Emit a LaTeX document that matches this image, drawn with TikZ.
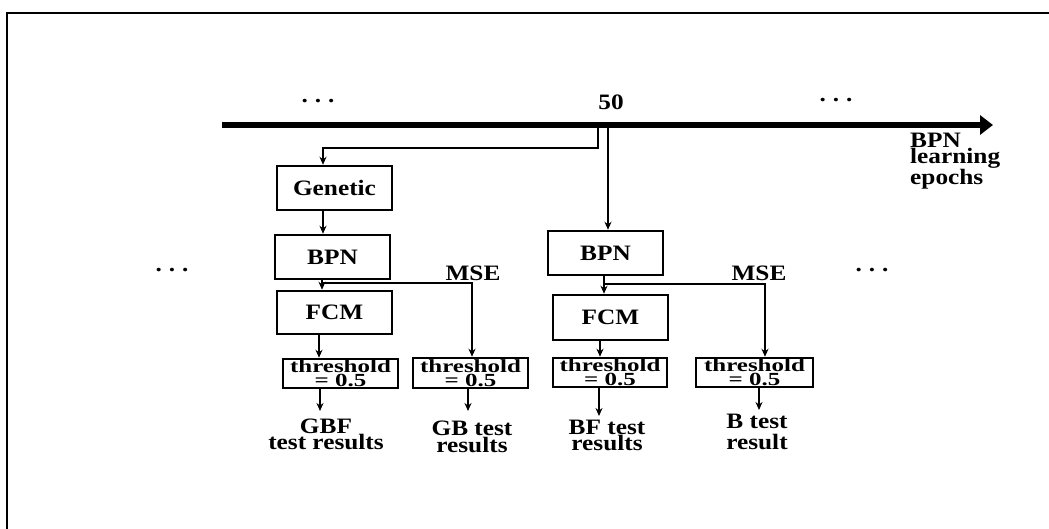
\documentclass[tikz,border=0pt]{standalone}
\usepackage{fontspec}
\setmainfont{Liberation Serif}[FakeStretch=1.15]
\newfontfamily\thrfont{Liberation Serif Bold}[FakeStretch=1.35]
\usetikzlibrary{arrows.meta}
\begin{document}
\begin{tikzpicture}[x=1pt,y=-1pt,
  box/.style={draw,line width=2.5pt,minimum width=115pt,minimum height=44pt,inner sep=0pt,font=\bfseries\fontsize{22}{15}\selectfont},
  thr/.style={draw,line width=2.5pt,minimum width=115pt,minimum height=29pt,inner sep=0pt,align=center,font=\thrfont\fontsize{18.5}{14}\selectfont},
  lbl/.style={align=center,inner sep=0pt,font=\bfseries\fontsize{22}{16}\selectfont},
  dots/.style={inner sep=0pt,font=\bfseries\fontsize{22}{15}\selectfont},
  conn/.style={line width=2pt},
  arr/.style={line width=2pt,-{Stealth[length=8pt,width=7pt]}},
]
\useasboundingbox (0,0) rectangle (1049,529);
% frame
\draw[line width=1.6pt] (7,529) -- (7,13) -- (1049,13);

% axis
\coordinate (axS) at (222,125);
\coordinate (axE) at (993,125);
\draw[line width=5.5pt,-{Triangle[length=13pt,width=19pt]}] (axS) -- (axE);

% top labels
\node[dots] (d1) at (318,101) {.\hspace{7pt}.\hspace{7pt}.};
\node[lbl] (n50) at (611,102) {50};
\node[dots] (d2) at (836,100) {.\hspace{7pt}.\hspace{7pt}.};
\node[lbl,anchor=north west,align=left,font=\bfseries\fontsize{22}{16}\selectfont] (ep) at (910,133) {BPN\\learning\\epochs};

% middle dots
\node[dots] (d3) at (172,270) {.\hspace{7pt}.\hspace{7pt}.};
\node[dots] (d4) at (872,270) {.\hspace{7pt}.\hspace{7pt}.};

% boxes
\node[box] (gen) at (334.5,188) {Genetic};
\node[box] (bpn1) at (332.5,257) {BPN};
\node[box,minimum height=43pt] (fcm1) at (334.5,312.5) {FCM};
\node[thr] (thr1) at (340.5,373.5) {threshold\\= 0.5};
\node[thr,minimum height=30pt] (thr2) at (470.5,373) {threshold\\= 0.5};
\node[box] (bpn2) at (605.5,253) {BPN};
\node[box,minimum height=45pt] (fcm2) at (610.5,317.5) {FCM};
\node[thr,minimum width=114pt] (thr3) at (610,372.5) {threshold\\= 0.5};
\node[thr,minimum width=117pt] (thr4) at (754.5,372.5) {threshold\\= 0.5};

% MSE labels
\node[lbl] (mse1) at (473,273) {MSE};
\node[lbl] (mse2) at (759,273) {MSE};

% result labels
\node[lbl] (gbf) at (326,434) {GBF\\test results};
\node[lbl,font=\bfseries\fontsize{22}{17}\selectfont] (gb) at (472,437) {GB test\\results};
\node[lbl] (bf) at (607,435) {BF test\\results};
\node[lbl,font=\bfseries\fontsize{22}{21}\selectfont] (b) at (757,432) {B test\\result};

% connectors from axis
\coordinate (a1) at (598,125);
\coordinate (a2) at (608,125);
\draw[arr] (a1) -- (598,148) -- (323,148) -- (gen.north -| 323,0);
\draw[arr] (a2) -- (bpn2.north -| 608,0);
\draw[arr] (gen.south -| 323,0) -- (bpn1.north -| 323,0);

% left column
\coordinate (j1) at (322,283);
\draw[conn] (bpn1.south -| 322,0) -- (j1);
\draw[arr] (j1) -- (fcm1.north -| 322,0);
\draw[arr] (j1) -- (472,283) -- (thr2.north -| 472,0);
\draw[arr] (fcm1.south -| 319,0) -- (thr1.north -| 319,0);
\draw[arr] (thr1.south -| 320,0) -- (320,411);
\draw[arr] (thr2.south -| 468,0) -- (468,411);

% right column
\coordinate (j2) at (604,284);
\draw[conn] (bpn2.south -| 604,0) -- (j2);
\draw[arr] (j2) -- (fcm2.north -| 604,0);
\draw[arr] (j2) -- (765,284) -- (thr4.north -| 765,0);
\draw[arr] (fcm2.south -| 600,0) -- (thr3.north -| 600,0);
\draw[arr] (thr3.south -| 599,0) -- (599,416);
\draw[arr] (thr4.south -| 759,0) -- (759,410);
\end{tikzpicture}
\end{document}
